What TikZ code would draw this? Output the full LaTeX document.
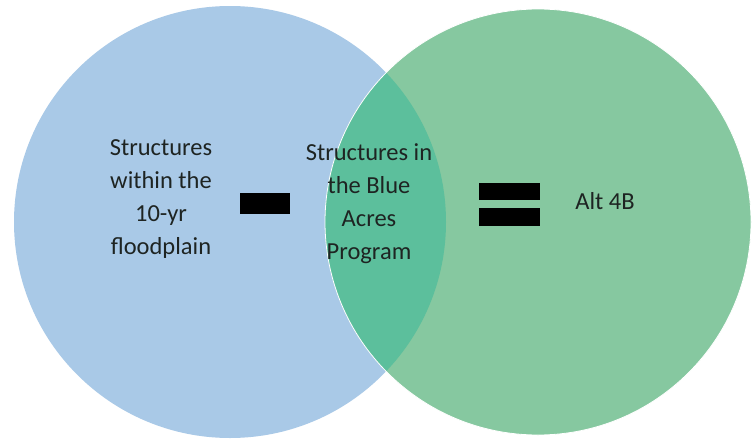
\documentclass[tikz,border=0pt]{standalone}
\usepackage{fontspec}
\setmainfont{Carlito}
\usepackage{tikz}
\usetikzlibrary{positioning}
\usepackage{xcolor}
\definecolor{floodblue}{HTML}{A9C9E7}
\definecolor{altgreen}{HTML}{86C8A0}
\definecolor{overlapteal}{HTML}{5CBF9C}
\definecolor{labelgray}{HTML}{1E2422}

\tikzset{
  vennlabel/.style={align=center, text=labelgray, inner sep=0pt,
    font=\fontsize{24.5}{33}\selectfont},
  signbar/.style={fill=black}
}

\begin{document}
\begin{tikzpicture}[x=1pt, y=-1pt]
    \useasboundingbox (0,0) rectangle (752,442);
    \fill[white] (0,0) rectangle (752,442);
    % the two sets
    \fill[floodblue] (230,222) circle (216);
    \fill[altgreen] (538,222) circle (213);
    \begin{scope}
      \clip (230,222) circle (216);
      \fill[overlapteal] (538,222) circle (213);
    \end{scope}
    \draw[white, line width=0.8pt] (538,222) circle (213);
    % minus and equals
    \fill[signbar] (240,193) rectangle (290,214);
    \fill[signbar] (479,183) rectangle (540,200);
    \fill[signbar] (479,208) rectangle (540,226);
    % labels
    \node[vennlabel] (flood) at (161,199) {Structures\\within the\\10-yr\\floodplain};
    \node[vennlabel] (blueacres) at (369,204) {Structures in\\the Blue\\Acres\\Program};
    \node[vennlabel] (alt) at (605,201) {Alt 4B};
  \end{tikzpicture}
\end{document}
